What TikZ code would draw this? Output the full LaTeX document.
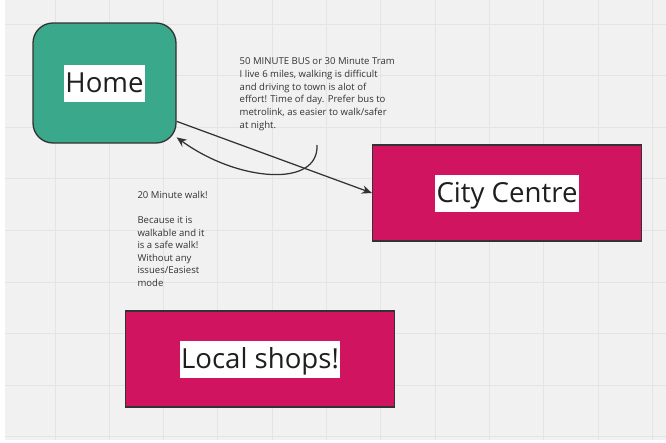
\documentclass[tikz,border=0pt]{standalone}
\usepackage{fontspec}
\setmainfont{Open Sans}
\usetikzlibrary{arrows.meta}
\definecolor{canvas}{HTML}{F1F1F1}
\definecolor{gridline}{HTML}{E4E4E4}
\definecolor{teal}{HTML}{3AA88A}
\definecolor{crimson}{HTML}{D1145F}
\definecolor{ink}{HTML}{333333}
\begin{document}
\begin{tikzpicture}[x=1pt,y=-1pt,
  place/.style={draw=ink, line width=1.3pt, inner sep=0pt, anchor=center},
  homebox/.style={place, fill=teal, rounded corners=20pt,
    minimum width=143pt, minimum height=120pt},
  destbox/.style={place, fill=crimson, minimum width=269pt, minimum height=96pt},
  lbl/.style={fill=white, inner xsep=1.5pt, inner ysep=0pt, text height=28pt,
    text depth=9pt, text=black!88, font=\fontsize{27.6}{32}\selectfont},
  note/.style={anchor=north west, inner sep=0pt, align=left, text=ink,
    font=\fontsize{9.55}{12.65}\selectfont},
  link/.style={draw=ink, line width=1.25pt, -{Stealth[length=10pt,width=8.5pt]}}]
  \useasboundingbox (0,0) rectangle (666,442);
  % canvas and grid
  \fill[white] (0,0) rectangle (666,442);
  \fill[canvas] (5,0) rectangle (666,440);
  \begin{scope}[gridline, line width=1pt]
    \foreach \gx in {55,109.3,163.6,217.9,272.2,326.5,380.8,435.1,489.4,543.7,598,652.3}
      \draw (\gx,0) -- (\gx,440);
    \foreach \gy in {24,75.6,127.2,178.8,230.4,282,333.6,385.2,436.8}
      \draw (5,\gy) -- (666,\gy);
  \end{scope}

  % places
  \node[homebox] (home) at (104.5,83) {};
  \node[lbl] (homelabel) at (home.center) {Home};
  \node[destbox] (city) at (507,193) {};
  \node[lbl] (citylabel) at (city.center) {City Centre};
  \node[destbox] (shops) at (260,359) {};
  \node[lbl] (shopslabel) at (shops.center) {Local shops!};

  % notes
  \node[note] (busnote) at (239.5,57.6) {50 MINUTE BUS or 30 Minute Tram\\
    I live 6 miles, walking is difficult\\
    and driving to town is alot of\\
    effort! Time of day. Prefer bus to\\
    metrolink, as easier to walk/safer\\
    at night.};
  \node[note] (walknote) at (137.3,190.6) {20 Minute walk!\\[12.65pt]
    Because it is\\
    walkable and it\\
    is a safe walk!\\
    Without any\\
    issues/Easiest\\
    mode};

  % connectors
  \coordinate (hookstart) at (317,145);
  \draw[link] (home.-28) -- (city.west);
  \draw[link] (hookstart) .. controls (319,188) and (238,182) .. (home.-37);
\end{tikzpicture}
\end{document}
